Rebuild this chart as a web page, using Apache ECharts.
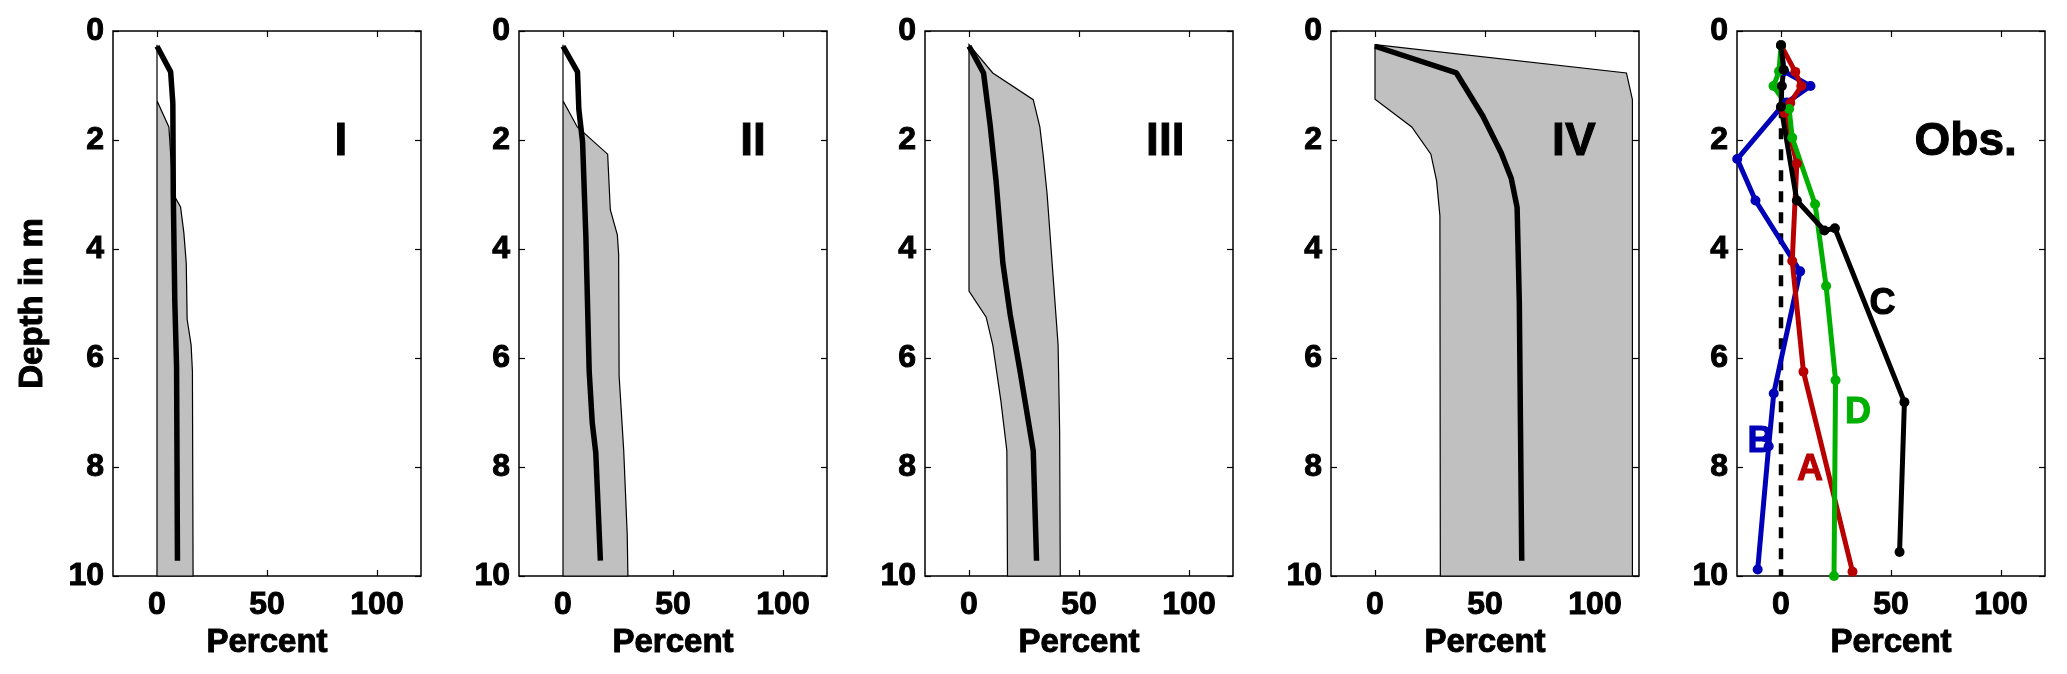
<!DOCTYPE html>
<html>
<head>
<meta charset="utf-8">
<script src="https://cdn.jsdelivr.net/npm/echarts@6/dist/echarts.min.js"></script>
</head>
<body style="margin:0">
<div id="container" style="width:2067px;height:674px"></div>
<script>
// panels I-IV: envelope bounds and mean profile, points are [percent, depth in m]
const maxI = [[0,0.25],[0,1.28],[5.4,1.76],[7.4,2.99],[10.7,3.23],[12.2,3.70],[13.3,4.26],[13.7,5.29],[15.5,5.76],[16.1,6.24],[16.4,10]];
const minI = [[0,0.25],[0,10]];
const meanI = [[0,0.28],[6.2,0.75],[7.2,1.32],[7.4,2.99],[8.1,4.97],[8.9,6.16],[9.3,9.72]];

const maxII = [[0,0.25],[0,1.28],[6.5,1.76],[20.3,2.26],[21.5,3.28],[24.7,3.74],[25.3,4.1],[25.5,6.32],[27.6,7.70],[29.2,9.25],[29.5,10]];
const minII = [[0,0.25],[0,10]];
const meanII = [[0,0.28],[6.6,0.75],[7.2,1.44],[8.9,2.04],[10.4,3.78],[11.9,6.24],[13.3,7.19],[14.9,7.74],[17.0,9.72]];

const maxIII = [[0,0.25],[10.8,0.77],[29.2,1.26],[32.2,1.76],[33.7,2.27],[35.5,2.99],[40.5,5.76],[41.2,7.35],[41.5,10]];
const minIII = [[0,0.25],[0,4.77],[7.8,5.25],[10.8,5.76],[14.5,6.79],[17.2,7.70],[17.5,10]];
const meanIII = [[0,0.28],[6.6,0.77],[9.6,1.72],[12.3,2.75],[15.4,4.26],[18.7,5.2],[23.2,6.24],[29.2,7.70],[30.7,9.72]];

const maxIV = [[0,0.25],[114.3,0.77],[117,1.26],[117,10]];
const minIV = [[0,0.25],[0,1.25],[16.7,1.76],[25.4,2.26],[28,2.75],[29.5,3.39],[29.7,10]];
const meanIV = [[0,0.28],[37,0.77],[49,1.56],[57.4,2.24],[61.9,2.7],[64.6,3.24],[65.6,4.97],[66.7,9.72]];

// observations
const obsA = [[0,0.26],[6.5,0.75],[9.2,1.01],[4.2,1.32],[1.5,1.5],[7.2,2.43],[5.1,4.22],[10.2,6.25],[32.5,9.92]];
const obsB = [[0,0.26],[1.4,0.74],[13.4,1.01],[2.7,1.31],[0,1.4],[-19.9,2.35],[-11.6,3.11],[8.7,4.41],[-3.3,6.65],[-5.6,7.62],[-10.6,9.88]];
const obsC = [[0,0.26],[1.2,0.71],[0.4,1.01],[0,1.39],[7.2,3.11],[19.7,3.66],[24.5,3.62],[56.1,6.81],[53.9,9.56]];
const obsD = [[0,0.26],[-0.9,0.74],[-3.4,1.01],[3.7,1.43],[5.1,1.96],[15.5,3.18],[20.5,4.68],[24.8,6.41],[24.1,10]];
const zeroLine = [[0,1.4],[0,10]];

const panelTitles = [['I',80.7,2.05],['II',80.6,2.05],['III',80.5,2.05],['IV',80.5,2.05],['Obs.',60.7,2.05]];
const obsLabels = [['A',13.2,8.06],['B',-9.3,7.54],['C',46.1,5.01],['D',35,7.01]];
const obsColors = {A:'#b80000', B:'#0000b8', C:'#000000', D:'#00b000'};

const xTicks = [0, 50, 100];
const envMax = [maxI, maxII, maxIII, maxIV];
const envMin = [minI, minII, minIII, minIV];
const means = [meanI, meanII, meanIII, meanIV];

const font = 'Liberation Sans, Arial, sans-serif';
const panelLeft = [113, 519, 925, 1331, 1737];

var chart = echarts.init(document.getElementById('container'), null, {renderer: 'canvas'});

function boldText(size, color) {
    return {color: color, fontSize: size, fontWeight: 'bold', fontFamily: font,
        textBorderColor: color, textBorderWidth: 1, opacity: 1};
}

var grids = [], xAxes = [], yAxes = [], series = [];
for (let i = 0; i < 5; i++) {
    grids.push({left: panelLeft[i], top: 31, width: 308, height: 545, show: true,
        borderColor: '#000', borderWidth: 1.5, backgroundColor: '#fff'});
    const tick = {show: true, inside: true, length: 6, customValues: xTicks, lineStyle: {color: '#000', width: 1.2}};
    xAxes.push({gridIndex: i, type: 'value', min: -20, max: 120, position: 'bottom',
        axisLine: {show: false, onZero: false}, splitLine: {show: false}, axisTick: tick,
        axisLabel: Object.assign({customValues: xTicks, margin: 13}, boldText(32, '#000')),
        name: 'Percent', nameLocation: 'middle', nameGap: 50,
        nameTextStyle: boldText(33, '#000')});
    xAxes.push({gridIndex: i, type: 'value', min: -20, max: 120, position: 'top',
        axisLine: {show: false, onZero: false}, splitLine: {show: false}, axisTick: tick,
        axisLabel: {show: false}});
    const ytick = {show: true, inside: true, length: 6, lineStyle: {color: '#000', width: 1.2}};
    yAxes.push({gridIndex: i, type: 'value', min: 0, max: 10, interval: 2, inverse: true, position: 'left',
        axisLine: {show: false, onZero: false}, splitLine: {show: false}, axisTick: ytick,
        axisLabel: Object.assign({margin: 9}, boldText(32, '#000')),
        name: i === 0 ? 'Depth in m' : '', nameLocation: 'middle', nameGap: 64, nameRotate: 90,
        nameTextStyle: boldText(33, '#000')});
    yAxes.push({gridIndex: i, type: 'value', min: 0, max: 10, interval: 2, inverse: true, position: 'right',
        axisLine: {show: false, onZero: false}, splitLine: {show: false}, axisTick: ytick,
        axisLabel: {show: false}});
}

// shaded envelopes + mean profile for the four model panels
for (let i = 0; i < 4; i++) {
    series.push({
        type: 'custom', xAxisIndex: 2 * i, yAxisIndex: 2 * i, data: [[0, 0]], silent: true, z: 1,
        renderItem: function (params, api) {
            var pts = envMax[i].concat(envMin[i].slice().reverse()).map(function (p) { return api.coord(p); });
            return {type: 'polygon', shape: {points: pts},
                style: {fill: '#c0c0c0', stroke: '#000', lineWidth: 1.2}};
        }
    });
    series.push({type: 'line', xAxisIndex: 2 * i, yAxisIndex: 2 * i, data: means[i], symbol: 'none',
        lineStyle: {color: '#000', width: 5.5}, z: 3, silent: true});
}

// observation panel
series.push({type: 'line', xAxisIndex: 8, yAxisIndex: 8, data: zeroLine, symbol: 'none',
    lineStyle: {color: '#000', width: 4.5, type: [11, 10]}, z: 2, silent: true});
[['B', obsB], ['A', obsA], ['D', obsD], ['C', obsC]].forEach(function (s) {
    series.push({type: 'line', xAxisIndex: 8, yAxisIndex: 8, data: s[1], symbol: 'circle', symbolSize: 10,
        itemStyle: {color: obsColors[s[0]]}, lineStyle: {color: obsColors[s[0]], width: 5}, z: 3, silent: true});
});
series.push({type: 'scatter', xAxisIndex: 8, yAxisIndex: 8, symbolSize: 1, silent: true, z: 5,
    itemStyle: {color: 'transparent', opacity: 1},
    data: obsLabels.map(function (l) {
        return {value: [l[1], l[2]], name: l[0], label: boldText(36, obsColors[l[0]])};
    }),
    label: {show: true, position: 'inside', align: 'center', verticalAlign: 'middle',
        formatter: function (p) { return p.name; }}});

// panel titles
panelTitles.forEach(function (t, i) {
    series.push({type: 'scatter', xAxisIndex: 2 * i, yAxisIndex: 2 * i, symbolSize: 1, silent: true, z: 5,
        itemStyle: {color: 'transparent', opacity: 1},
        data: [{value: [t[1], t[2]], name: t[0]}],
        label: Object.assign({show: true, position: 'inside', align: 'left', verticalAlign: 'middle',
            formatter: function (p) { return p.name; }}, boldText(46, '#000'))});
});

var option = {
    animation: false,
    grid: grids,
    xAxis: xAxes,
    yAxis: yAxes,
    series: series
};
chart.setOption(option);
window.addEventListener('resize', chart.resize);
</script>
</body>
</html>
